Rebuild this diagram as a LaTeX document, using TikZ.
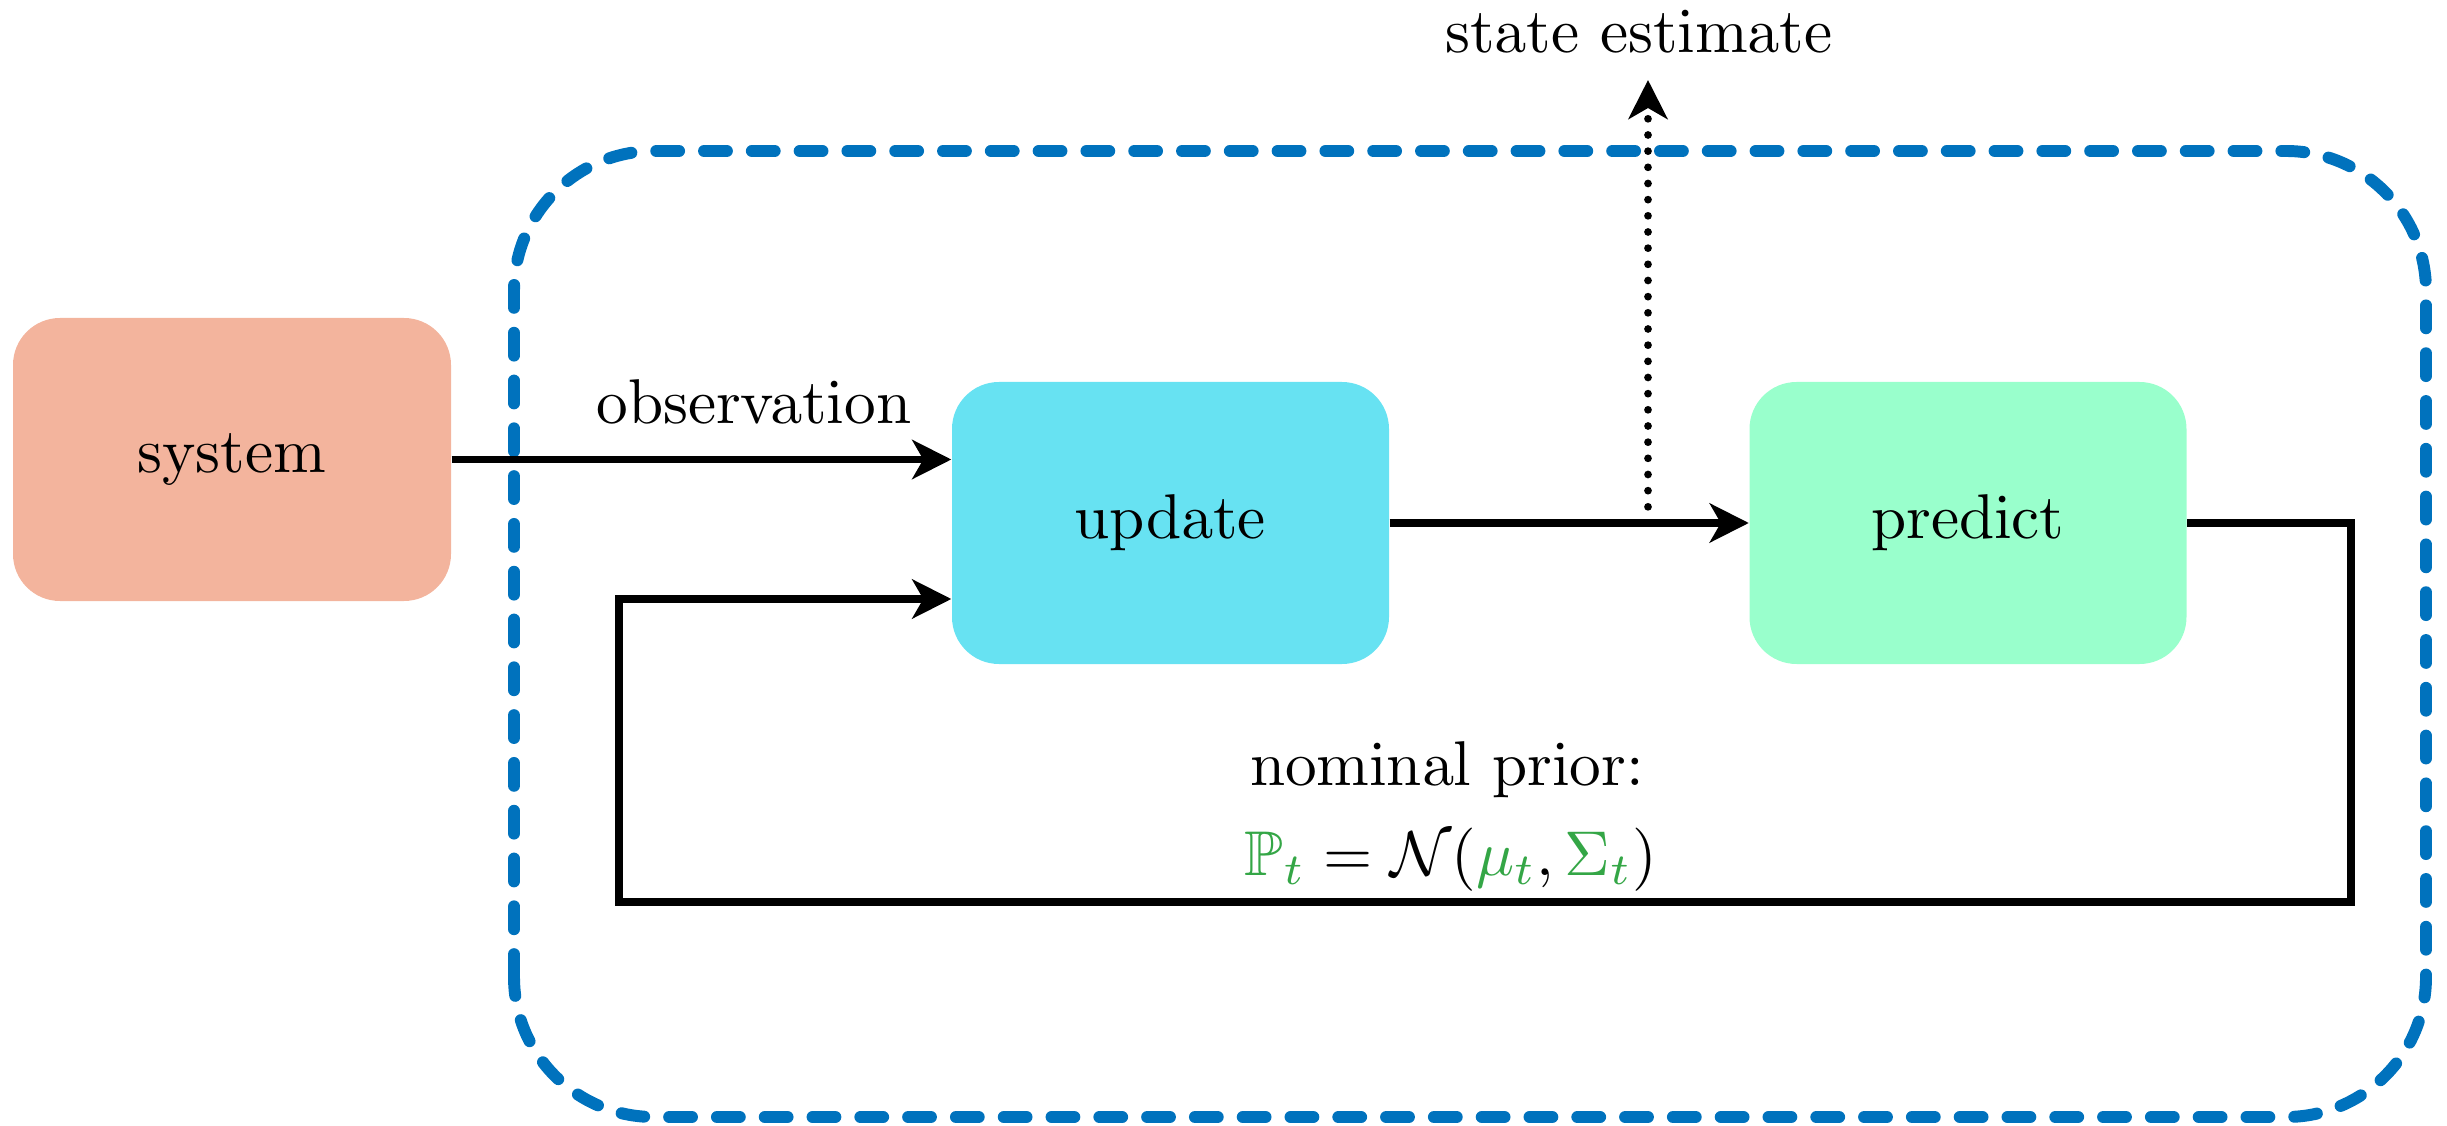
\documentclass[tikz,border=0pt]{standalone}
\usepackage{amsmath,amssymb}
\usetikzlibrary{arrows.meta}

\definecolor{sysred}{RGB}{243,180,157}
\definecolor{updcyan}{RGB}{103,226,242}
\definecolor{predgreen}{RGB}{153,255,204}
\definecolor{boxblue}{RGB}{0,114,189}
\definecolor{mathgreen}{RGB}{52,166,70}

\font\lblfont=cmr10 at 18pt

\tikzset{
  block/.style={rounded corners=0.47cm, minimum width=4.37cm, minimum height=2.82cm,
    inner sep=0pt, font=\lblfont},
  flow/.style={line width=2.1pt, -{Stealth[length=0.39cm, width=0.39cm, inset=0.11cm]}},
  lbl/.style={font=\lblfont, inner sep=0pt}
}

\begin{document}
\begin{tikzpicture}
\useasboundingbox (0,0) rectangle (24.47,11.25);

% filter loop
\draw[boxblue, line width=3.4pt, dash pattern=on 6.5pt off 7.1pt, line cap=round,
  rounded corners=1.4cm] (5.14,0.08) rectangle (24.26,9.74);

\node[block, fill=sysred, minimum width=4.38cm, minimum height=2.83cm] (system) at (2.32,6.655) {system};
\node[block, fill=updcyan] (update) at (11.705,6.02) {update};
\node[block, fill=predgreen] (predict) at (19.68,6.02) {predict};

\draw[flow] (system.east) -- (system.east -| update.west);
\node[lbl, anchor=base] (obs) at (7.54,7.01) {observation};

\draw[flow] (update.east) -- (predict.west);

% state estimate
\coordinate (tap) at (16.48,6.02);
\coordinate (out) at (16.48,10.45);
\draw[line width=2.2pt, dash pattern=on 0pt off 4.6pt, line cap=round] (tap) -- ([yshift=-0.2cm]out);
\draw[line width=2.1pt, -{Stealth[length=0.39cm, width=0.39cm, inset=0.11cm]}] ([yshift=-0.25cm]out) -- (out);
\node[lbl, anchor=base] (estimate) at (16.39,10.72) {state estimate};

% feedback of the prior
\coordinate (loopr) at (23.51,2.23);
\coordinate (loopl) at (6.19,2.23);
\draw[flow] (predict.east) -| (loopr) -- (loopl) |- ([yshift=-0.76cm]update.west);

\node[lbl, anchor=base] (prior) at (14.47,3.40) {nominal prior:};
\node[anchor=base, inner sep=0pt, scale=1.8] (dist) at (14.51,2.50)
  {$\color{mathgreen}\mathbb{P}_t\color{black} = \mathcal{N}({\color{mathgreen}\mu_t}, {\color{mathgreen}\Sigma_t})$};
\end{tikzpicture}
\end{document}
